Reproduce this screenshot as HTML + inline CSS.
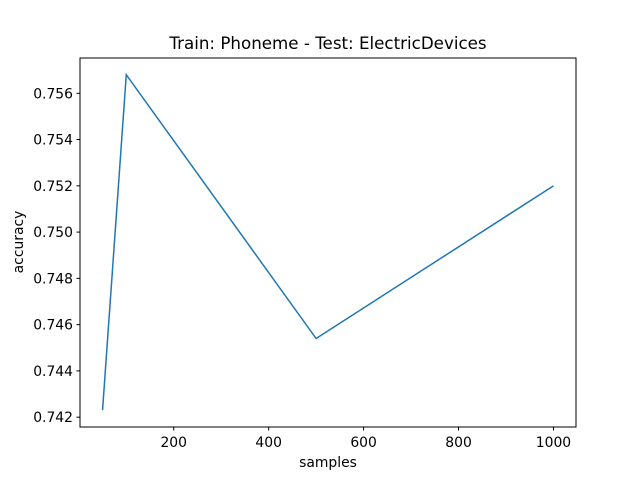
<!DOCTYPE html>
<html><head><meta charset="utf-8"><style>
body{margin:0;background:#fff}
svg{display:block;font-family:"DejaVu Sans","Liberation Sans",sans-serif}
</style></head><body>
<svg id="chart" width="640" height="480">
<rect width="640" height="480" fill="#fff"/>
<text x="328" y="49" font-size="16.7" text-anchor="middle">Train: Phoneme - Test: ElectricDevices</text>
<g id="plot"></g>
<rect x="80" y="58" width="496" height="369" fill="none" stroke="#000" stroke-width="1"/>
<text x="328" y="467" font-size="13.9" text-anchor="middle">samples</text>
<text transform="translate(23,242) rotate(-90)" font-size="13.9" text-anchor="middle">accuracy</text>
</svg>
<script>
const samples=[50,100,500,1000];
const accuracy=[0.7423,0.7568,0.7454,0.7520];
const xTicks=[200,400,600,800,1000];
const yTicks=[0.742,0.744,0.746,0.748,0.750,0.752,0.754,0.756];
const L=80,R=576,T=58,B=427;
const xmin=Math.min(...samples),xmax=Math.max(...samples),xm=(xmax-xmin)*0.05;
const ymin=Math.min(...accuracy),ymax=Math.max(...accuracy),ym=(ymax-ymin)*0.05;
const sx=v=>L+(v-(xmin-xm))/((xmax+xm)-(xmin-xm))*(R-L);
const sy=v=>B-(v-(ymin-ym))/((ymax+ym)-(ymin-ym))*(B-T);
const NS="http://www.w3.org/2000/svg";
const g=document.getElementById('plot');
function mk(t,a){const e=document.createElementNS(NS,t);for(const k in a)e.setAttribute(k,a[k]);g.appendChild(e);return e;}
xTicks.forEach(v=>{
 const x=sx(v);
 const l=mk('line',{x1:x,x2:x,y1:B,y2:B+3.5,stroke:'#000'});
 
 
 const t=mk('text',{x:x,y:B+20,'font-size':13.9,'text-anchor':'middle'});
 t.textContent=v;
 
 
});
yTicks.forEach(v=>{
 const y=sy(v);
 const l=mk('line',{x1:L-3.5,x2:L,y1:y,y2:y,stroke:'#000'});
 
 
 const t=mk('text',{x:L-7,y:y+5,'font-size':13.9,'text-anchor':'end'});
 t.textContent=v.toFixed(3);
 
 
});
const p=mk('polyline',{points:samples.map((s,i)=>sx(s)+','+sy(accuracy[i])).join(' '),fill:'none',stroke:'#1f77b4','stroke-width':1.5});


</script>
</body></html>
